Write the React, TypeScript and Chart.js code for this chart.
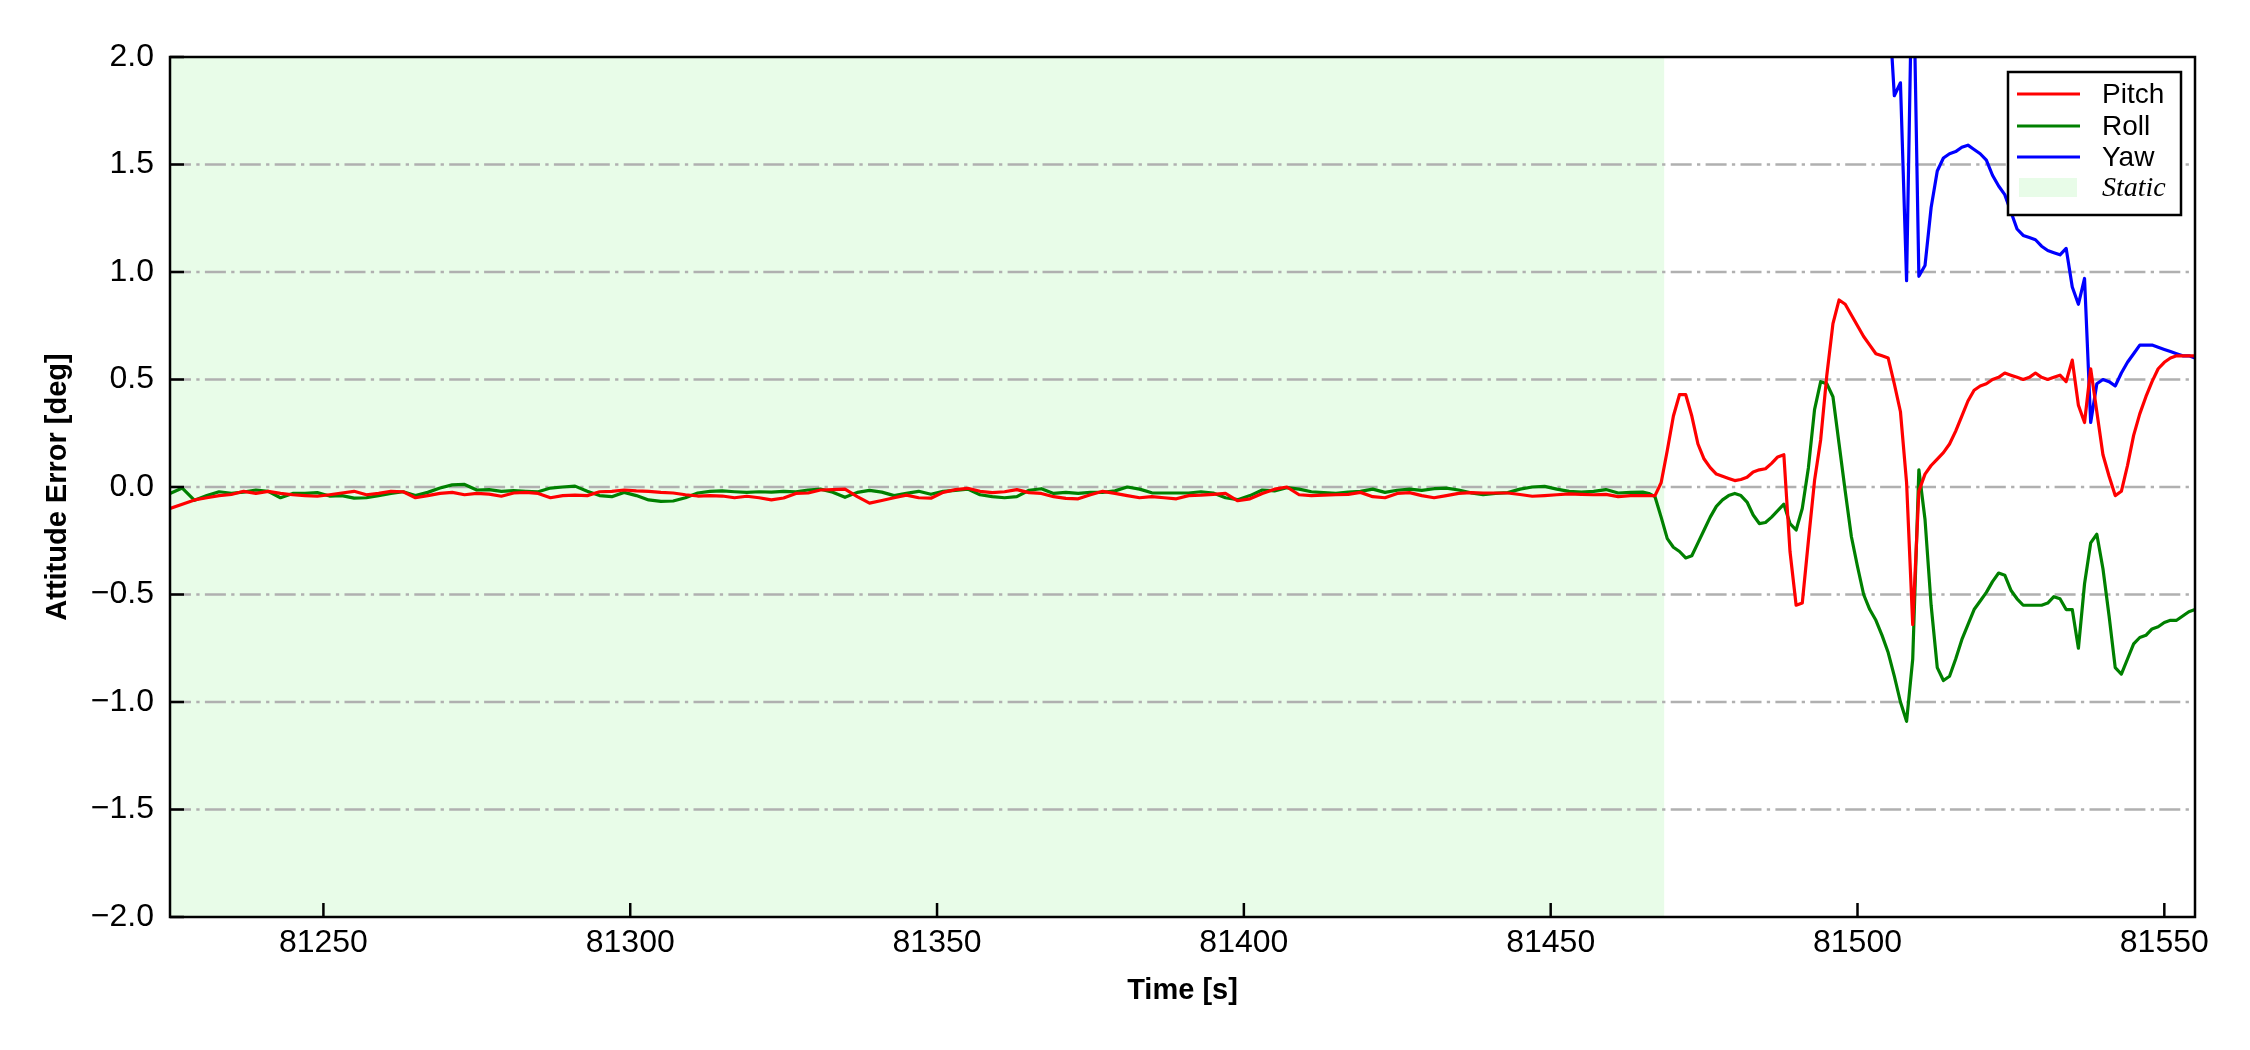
import React, { useEffect, useRef } from 'react';
import { Chart, registerables } from 'chart.js';

Chart.register(...registerables);

// ---- sampling grids (s) ----
const staticTime = Array.from({ length: 121 }, (_, i) => 81225 + 2 * i); // 81225..81465
const motionTime = Array.from({ length: 90 }, (_, i) => 81466 + i); // 81466..81555
const yawTime = Array.from({ length: 51 }, (_, i) => 81505 + i); // 81505..81555

// ---- Pitch error [deg] ----
const pitchStatic = [
  -0.1, -0.08, -0.06, -0.05, -0.04, -0.035, -0.02, -0.03, -0.02, -0.03,
  -0.036, -0.04, -0.043, -0.036, -0.028, -0.02, -0.036, -0.03, -0.02, -0.022,
  -0.05, -0.04, -0.03, -0.025, -0.036, -0.03, -0.033, -0.043, -0.028, -0.025,
  -0.03, -0.05, -0.04, -0.038, -0.04, -0.022, -0.02, -0.014, -0.018, -0.02,
  -0.025, -0.028, -0.036, -0.042, -0.04, -0.042, -0.05, -0.043, -0.05, -0.06,
  -0.051, -0.03, -0.028, -0.014, -0.012, -0.01, -0.045, -0.075, -0.063, -0.05,
  -0.038, -0.05, -0.052, -0.025, -0.012, -0.006, -0.02, -0.026, -0.022, -0.012,
  -0.026, -0.03, -0.045, -0.053, -0.055, -0.036, -0.02, -0.03, -0.04, -0.05,
  -0.045, -0.05, -0.055, -0.04, -0.038, -0.034, -0.03, -0.064, -0.055, -0.03,
  -0.01, 0.0, -0.036, -0.04, -0.038, -0.036, -0.034, -0.025, -0.045, -0.05,
  -0.03, -0.026, -0.04, -0.05, -0.04, -0.03, -0.026, -0.028, -0.028, -0.028,
  -0.035, -0.043, -0.04, -0.036, -0.032, -0.034, -0.036, -0.034, -0.045, -0.04,
  -0.04,
];
const pitchMotion = [
  -0.04, -0.04, 0.02, 0.17, 0.33, 0.43, 0.43, 0.33, 0.2, 0.13,
  0.09, 0.06, 0.05, 0.04, 0.03, 0.035, 0.045, 0.07, 0.08, 0.085,
  0.11, 0.14, 0.15, -0.3, -0.55, -0.54, -0.25, 0.03, 0.22, 0.52,
  0.76, 0.87, 0.85, 0.8, 0.75, 0.7, 0.66, 0.62, 0.61, 0.6,
  0.48, 0.35, 0.02, -0.64, -0.02, 0.06, 0.1, 0.13, 0.16, 0.2,
  0.26, 0.33, 0.4, 0.45, 0.47, 0.48, 0.5, 0.51, 0.53, 0.52,
  0.51, 0.5, 0.51, 0.53, 0.51, 0.5, 0.51, 0.52, 0.49, 0.59,
  0.38, 0.3, 0.55, 0.35, 0.15, 0.05, -0.04, -0.02, 0.1, 0.24,
  0.34, 0.42, 0.49, 0.55, 0.58, 0.6, 0.61, 0.61, 0.61, 0.61,
];

// ---- Roll error [deg] ----
const rollStatic = [
  -0.03, -0.005, -0.062, -0.04, -0.022, -0.029, -0.024, -0.014, -0.02, -0.05,
  -0.03, -0.03, -0.026, -0.042, -0.04, -0.052, -0.05, -0.04, -0.03, -0.022,
  -0.04, -0.025, -0.005, 0.01, 0.012, -0.014, -0.012, -0.02, -0.017, -0.02,
  -0.022, -0.005, 0.0, 0.004, -0.02, -0.04, -0.045, -0.025, -0.04, -0.06,
  -0.067, -0.065, -0.05, -0.028, -0.02, -0.018, -0.022, -0.025, -0.022, -0.024,
  -0.02, -0.022, -0.014, -0.01, -0.024, -0.048, -0.025, -0.016, -0.024, -0.04,
  -0.03, -0.02, -0.034, -0.02, -0.016, -0.01, -0.036, -0.045, -0.05, -0.045,
  -0.015, -0.008, -0.03, -0.025, -0.03, -0.025, -0.025, -0.018, 0.0, -0.01,
  -0.027, -0.028, -0.028, -0.028, -0.022, -0.028, -0.05, -0.059, -0.04, -0.014,
  -0.018, -0.003, -0.01, -0.022, -0.026, -0.03, -0.024, -0.02, -0.01, -0.025,
  -0.015, -0.01, -0.016, -0.008, -0.005, -0.014, -0.027, -0.036, -0.03, -0.026,
  -0.01, 0.0, 0.003, -0.01, -0.02, -0.024, -0.02, -0.012, -0.028, -0.025,
  -0.024,
];
const rollMotion = [
  -0.03, -0.045, -0.14, -0.24, -0.28, -0.3, -0.33, -0.32, -0.26, -0.2,
  -0.14, -0.09, -0.06, -0.04, -0.03, -0.04, -0.07, -0.13, -0.17, -0.165,
  -0.14, -0.11, -0.08, -0.17, -0.2, -0.1, 0.09, 0.36, 0.49, 0.48,
  0.42, 0.2, -0.02, -0.23, -0.37, -0.5, -0.57, -0.62, -0.69, -0.77,
  -0.88, -1.0, -1.09, -0.8, 0.08, -0.15, -0.55, -0.84, -0.9, -0.88,
  -0.8, -0.71, -0.64, -0.57, -0.53, -0.49, -0.44, -0.4, -0.41, -0.48,
  -0.52, -0.55, -0.55, -0.55, -0.55, -0.54, -0.51, -0.52, -0.57, -0.57,
  -0.75, -0.45, -0.26, -0.22, -0.38, -0.6, -0.84, -0.87, -0.8, -0.73,
  -0.7, -0.69, -0.66, -0.65, -0.63, -0.62, -0.62, -0.6, -0.58, -0.57,
];

// ---- Yaw error [deg] (above the visible range before ~81505 s) ----
const yawMotion = [
  2.3, 1.82, 1.88, 0.96, 2.6, 0.98, 1.03, 1.3, 1.47, 1.53,
  1.55, 1.56, 1.58, 1.59, 1.57, 1.55, 1.52, 1.45, 1.4, 1.36,
  1.28, 1.2, 1.17, 1.16, 1.15, 1.12, 1.1, 1.09, 1.08, 1.11,
  0.93, 0.85, 0.97, 0.3, 0.48, 0.5, 0.49, 0.47, 0.53, 0.58,
  0.62, 0.66, 0.66, 0.66, 0.65, 0.64, 0.63, 0.62, 0.61, 0.61,
  0.6,
];

const xTicks = [81250, 81300, 81350, 81400, 81450, 81500, 81550];
const yTicks = [-2, -1.5, -1, -0.5, 0, 0.5, 1, 1.5, 2];
const gridLevels = [-1.5, -1, -0.5, 0, 0.5, 1, 1.5];
const xMin = 81225;
const xMax = 81555;
const staticEnd = 81468.5;
const seriesNames = ['Pitch', 'Roll', 'Yaw'];
const seriesColors = ['#ff0000', '#008000', '#0000ff'];
const staticLabel = 'Static';

const SANS = "'Liberation Sans', Arial, Helvetica, sans-serif";
const SERIF = "'Liberation Serif', 'Times New Roman', serif";
const STATIC_FILL = '#e8fce8';

const toPoints = (ts: number[], vs: number[]) => ts.map((t, i) => ({ x: t, y: vs[i] }));

const decorPlugin = {
  id: 'decor',
  beforeDatasetsDraw(chart: any) {
    const { ctx, chartArea: a, scales } = chart;
    const x = scales.x;
    const y = scales.y;
    ctx.save();
    const xs = x.getPixelForValue(xMin);
    const xe = x.getPixelForValue(staticEnd);
    ctx.fillStyle = STATIC_FILL;
    ctx.fillRect(xs, a.top, xe - xs, a.bottom - a.top);
    ctx.strokeStyle = '#b0b0b0';
    ctx.lineWidth = 2.5;
    ctx.setLineDash([21, 5.3, 3.3, 5.3]);
    for (const v of gridLevels) {
      const py = y.getPixelForValue(v);
      ctx.beginPath();
      ctx.moveTo(a.left, py);
      ctx.lineTo(a.right, py);
      ctx.stroke();
    }
    ctx.restore();
  },
  afterDatasetsDraw(chart: any) {
    const { ctx, chartArea: a, scales } = chart;
    const x = scales.x;
    const y = scales.y;
    ctx.save();
    ctx.setLineDash([]);
    ctx.strokeStyle = '#000';
    ctx.lineWidth = 2.5;
    // tick marks (inward)
    for (const v of yTicks) {
      const py = y.getPixelForValue(v);
      ctx.beginPath();
      ctx.moveTo(a.left, py);
      ctx.lineTo(a.left + 14, py);
      ctx.stroke();
    }
    for (const v of xTicks) {
      const px = x.getPixelForValue(v);
      ctx.beginPath();
      ctx.moveTo(px, a.bottom);
      ctx.lineTo(px, a.bottom - 14);
      ctx.stroke();
    }
    // frame
    ctx.strokeRect(a.left, a.top, a.right - a.left, a.bottom - a.top);

    // legend
    const bw = 173;
    const bh = 143;
    const bx = a.right - 14 - bw;
    const by = a.top + 15;
    ctx.fillStyle = '#ffffff';
    ctx.fillRect(bx, by, bw, bh);
    ctx.lineWidth = 2.5;
    ctx.strokeRect(bx, by, bw, bh);
    const rows = [22, 54, 85, 116];
    ctx.textBaseline = 'middle';
    ctx.textAlign = 'left';
    seriesNames.forEach((name, i) => {
      const ry = by + rows[i];
      ctx.strokeStyle = seriesColors[i];
      ctx.lineWidth = 3.2;
      ctx.beginPath();
      ctx.moveTo(bx + 9, ry);
      ctx.lineTo(bx + 72, ry);
      ctx.stroke();
      ctx.fillStyle = '#000';
      ctx.font = `28px ${SANS}`;
      ctx.fillText(name, bx + 94, ry + 1);
    });
    const sy = by + rows[3];
    ctx.fillStyle = STATIC_FILL;
    ctx.fillRect(bx + 11, sy - 10, 58, 19);
    ctx.fillStyle = '#000';
    ctx.font = `italic 28px ${SERIF}`;
    ctx.fillText(staticLabel, bx + 94, sy + 1);
    ctx.restore();
  },
};

export default function App() {
  const canvasRef = useRef<HTMLCanvasElement | null>(null);

  useEffect(() => {
    const canvas = canvasRef.current;
    if (!canvas) return;
    const fmtY = (v: number) => (v < 0 ? '\u2212' : '') + Math.abs(v).toFixed(1);
    const chart = new Chart(canvas, {
      type: 'line',
      data: {
        datasets: [
          {
            label: seriesNames[0],
            data: toPoints([...staticTime, ...motionTime], [...pitchStatic, ...pitchMotion]),
            borderColor: seriesColors[0],
            backgroundColor: seriesColors[0],
          },
          {
            label: seriesNames[1],
            data: toPoints([...staticTime, ...motionTime], [...rollStatic, ...rollMotion]),
            borderColor: seriesColors[1],
            backgroundColor: seriesColors[1],
          },
          {
            label: seriesNames[2],
            data: toPoints(yawTime, yawMotion),
            borderColor: seriesColors[2],
            backgroundColor: seriesColors[2],
          },
        ],
      },
      options: {
        animation: false,
        responsive: false,
        devicePixelRatio: 1,
        layout: { padding: { left: 0, right: 55, top: 57, bottom: 0 } },
        elements: {
          point: { radius: 0, hoverRadius: 0 },
          line: { borderWidth: 3.2, tension: 0, fill: false, borderJoinStyle: 'round' as any },
        },
        plugins: {
          legend: { display: false },
          tooltip: { enabled: false },
        },
        scales: {
          x: {
            type: 'linear',
            min: xMin,
            max: xMax,
            grid: { display: false, drawTicks: false },
            border: { display: false },
            afterBuildTicks: (s: any) => {
              s.ticks = xTicks.map((v) => ({ value: v }));
            },
            afterFit: (s: any) => {
              s.height = 133;
            },
            ticks: {
              autoSkip: false,
              maxRotation: 0,
              padding: 7,
              color: '#000',
              font: { family: SANS, size: 32 },
              callback: (v: any) => String(v),
            },
            title: {
              display: true,
              text: 'Time [s]',
              color: '#000',
              font: { family: SANS, size: 29, weight: 'bold' },
              padding: { top: 0, bottom: 42 },
            },
          },
          y: {
            type: 'linear',
            min: -2,
            max: 2,
            grid: { display: false, drawTicks: false },
            border: { display: false },
            afterBuildTicks: (s: any) => {
              s.ticks = yTicks.map((v) => ({ value: v }));
            },
            afterFit: (s: any) => {
              s.width = 170;
            },
            ticks: {
              autoSkip: false,
              padding: 16,
              color: '#000',
              font: { family: SANS, size: 32 },
              callback: (v: any) => fmtY(Number(v)),
            },
            title: {
              display: true,
              text: 'Attitude Error [deg]',
              color: '#000',
              font: { family: SANS, size: 29, weight: 'bold' },
              padding: { top: 41, bottom: 0 },
            },
          },
        },
      },
      plugins: [decorPlugin],
    });
    return () => chart.destroy();
  }, []);

  return (
    <div style={{ position: 'absolute', left: 0, top: 0, width: 2250, height: 1050, background: '#fff' }}>
      <canvas ref={canvasRef} width={2250} height={1050} style={{ display: 'block', width: 2250, height: 1050 }} />
    </div>
  );
}
